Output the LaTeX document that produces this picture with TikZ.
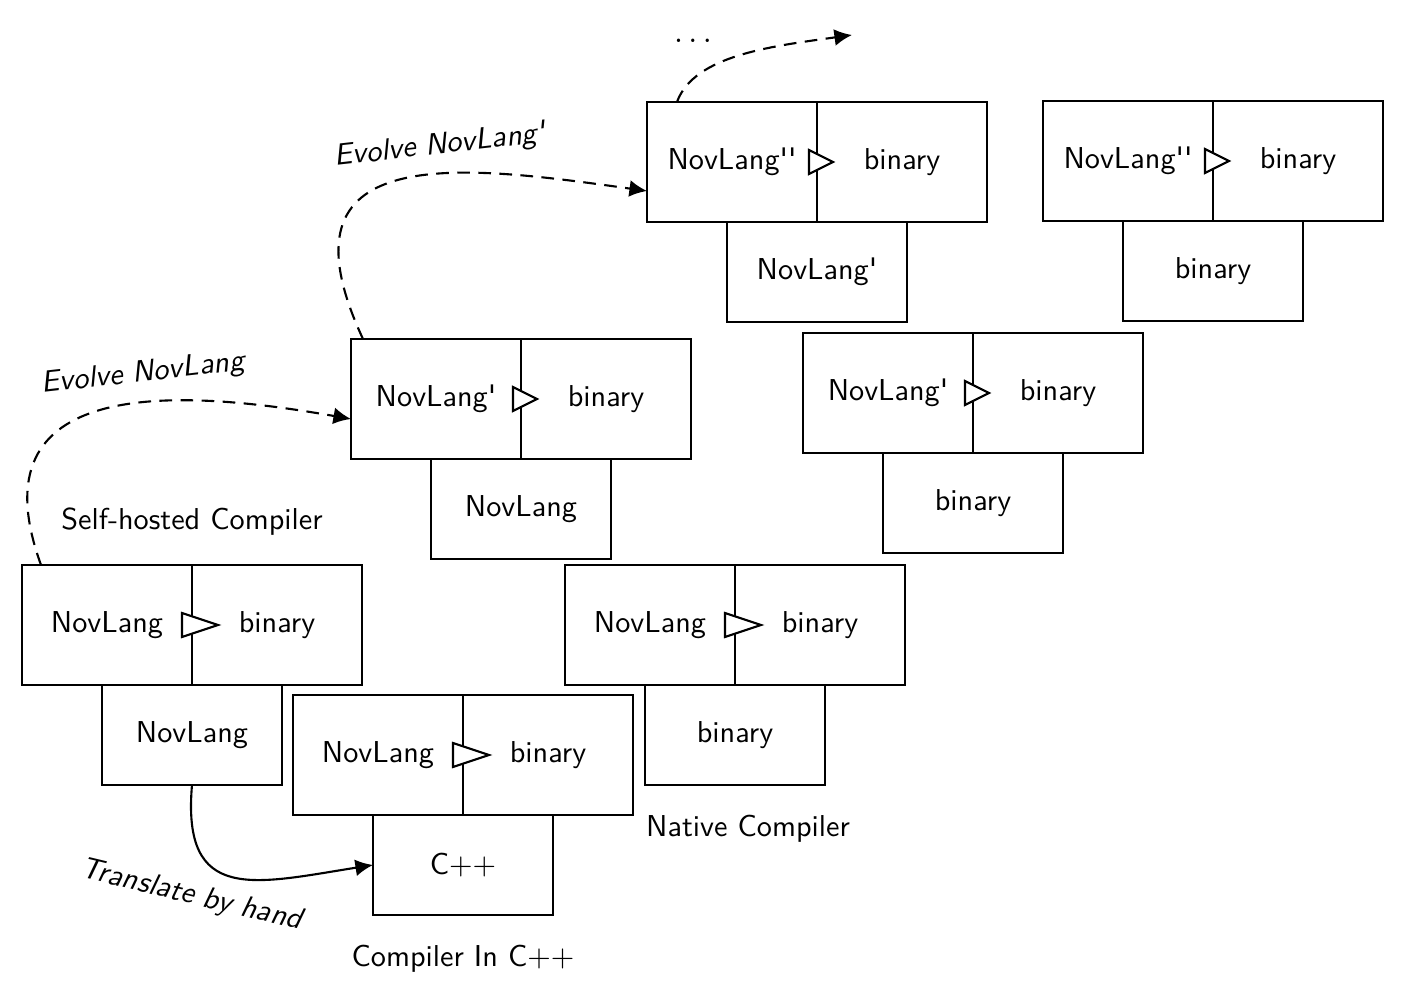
\documentclass[tikz,border=0pt]{standalone}
\usepackage{fontspec}
\setsansfont{lmsans10-regular}[Extension=.otf, ItalicFont=lmsans10-oblique]
\usetikzlibrary{arrows.meta,positioning,calc}
\renewcommand{\familydefault}{\sfdefault}

\begin{document}
\begin{tikzpicture}[
    semithick,
    font=\fontsize{8.6}{10}\selectfont,
    half/.style={rectangle, draw, minimum width=1.7cm, minimum height=1.2cm, inner sep=0pt, outer sep=0pt},
    impl/.style={rectangle, draw, minimum width=1.8cm, minimum height=1cm, inner sep=0pt, outer sep=0pt},
    tri/.style={draw, fill=white},
    note/.style={font=\fontsize{8.6}{10}\selectfont\itshape},
    arrow/.style={-{Latex[length=5pt,width=4.8pt]}},
    evolve/.style={arrow, dash pattern=on 3.6pt off 2.4pt}
]
    \useasboundingbox (0,0) rectangle (14.28,9.96);

    % Self-hosted compiler
    \node[half] (selfsrc) at (1.07,3.71) {NovLang};
    \node[half, right=0pt of selfsrc] (selftgt) {binary};
    \node[impl, below=0pt of selfsrc.south east] (selfimpl) {NovLang};
    \node[above=0.17cm of selfsrc.north east] (selfname) {Self-hosted Compiler};

    % Compiler in C++
    \node[half] (cppsrc) at (3.78,2.41) {NovLang};
    \node[half, right=0pt of cppsrc] (cpptgt) {binary};
    \node[impl, below=0pt of cppsrc.south east] (cppimpl) {C++};
    \node[below=0.17cm of cppimpl] (cppname) {Compiler In C++};

    % Native compiler
    \node[half] (natsrc) at (6.50,3.71) {NovLang};
    \node[half, right=0pt of natsrc] (nattgt) {binary};
    \node[impl, below=0pt of natsrc.south east] (natimpl) {binary};
    \node[below=0.17cm of natimpl, xshift=0.13cm] (natname) {Native Compiler};

    % First evolution
    \node[half] (evoasrc) at (4.36,5.97) {NovLang\textquotesingle};
    \node[half, right=0pt of evoasrc] (evoatgt) {binary};
    \node[impl, below=0pt of evoasrc.south east] (evoaimpl) {NovLang};

    \node[half] (evoanatsrc) at (8.88,6.03) {NovLang\textquotesingle};
    \node[half, right=0pt of evoanatsrc] (evoanattgt) {binary};
    \node[impl, below=0pt of evoanatsrc.south east] (evoanatimpl) {binary};

    % Second evolution
    \node[half] (evobsrc) at (7.32,8.34) {NovLang\textquotesingle\textquotesingle};
    \node[half, right=0pt of evobsrc] (evobtgt) {binary};
    \node[impl, below=0pt of evobsrc.south east] (evobimpl) {NovLang\textquotesingle};

    \node[half] (evobnatsrc) at (11.28,8.35) {NovLang\textquotesingle\textquotesingle};
    \node[half, right=0pt of evobnatsrc] (evobnattgt) {binary};
    \node[impl, below=0pt of evobnatsrc.south east] (evobnatimpl) {binary};

    % Triangles
    \draw[tri] ($(selfsrc.east)+(-0.10,0.12)$) -- ++(0.36,-0.12) -- ++(-0.36,-0.12) -- cycle;
    \draw[tri] ($(cppsrc.east)+(-0.10,0.12)$) -- ++(0.36,-0.12) -- ++(-0.36,-0.12) -- cycle;
    \draw[tri] ($(natsrc.east)+(-0.10,0.12)$) -- ++(0.36,-0.12) -- ++(-0.36,-0.12) -- cycle;
    \draw[tri] ($(evoasrc.east)+(-0.08,0.12)$) -- ++(0.24,-0.12) -- ++(-0.24,-0.12) -- cycle;
    \draw[tri] ($(evoanatsrc.east)+(-0.08,0.12)$) -- ++(0.24,-0.12) -- ++(-0.24,-0.12) -- cycle;
    \draw[tri] ($(evobsrc.east)+(-0.08,0.12)$) -- ++(0.24,-0.12) -- ++(-0.24,-0.12) -- cycle;
    \draw[tri] ($(evobnatsrc.east)+(-0.08,0.12)$) -- ++(0.24,-0.12) -- ++(-0.24,-0.12) -- cycle;

    % Arrows
    \coordinate (evoastart) at ($(selfsrc.north west)+(0.19,0)$);
    \coordinate (evoaend) at ($(evoasrc.west)+(0,-0.2)$);
    \coordinate (evobstart) at ($(evoasrc.north west)+(0.12,0)$);
    \coordinate (evobend) at ($(evobsrc.west)+(0,-0.29)$);
    \coordinate (evocstart) at ($(evobsrc.north west)+(0.30,0)$);
    \coordinate (evocend) at (8.52,9.61);

    \draw[arrow] (selfimpl.south) to[out=265, in=189, out distance=1.2cm, in distance=1.2cm] (cppimpl.west);
    \draw[evolve] (evoastart) to[out=110, in=170, out distance=2cm, in distance=1.8cm] (evoaend);
    \draw[evolve] (evobstart) to[out=115, in=172, out distance=2.2cm, in distance=1.9cm] (evobend);
    \draw[evolve] (evocstart) to[out=70, in=188, out distance=0.5cm, in distance=0.8cm] (evocend);

    % Labels
    \node[note, rotate=-13.5] (translate) at (1.91,1.00) {Translate by hand};
    \node[note, rotate=6.5] (evolvea) at (1.43,6.22) {Evolve NovLang};
    \node[note, rotate=6.5] (evolveb) at (4.40,8.50) {Evolve NovLang\textquotesingle};
    \node (more) at (6.93,9.55) {$\dots$};
\end{tikzpicture}
\end{document}
